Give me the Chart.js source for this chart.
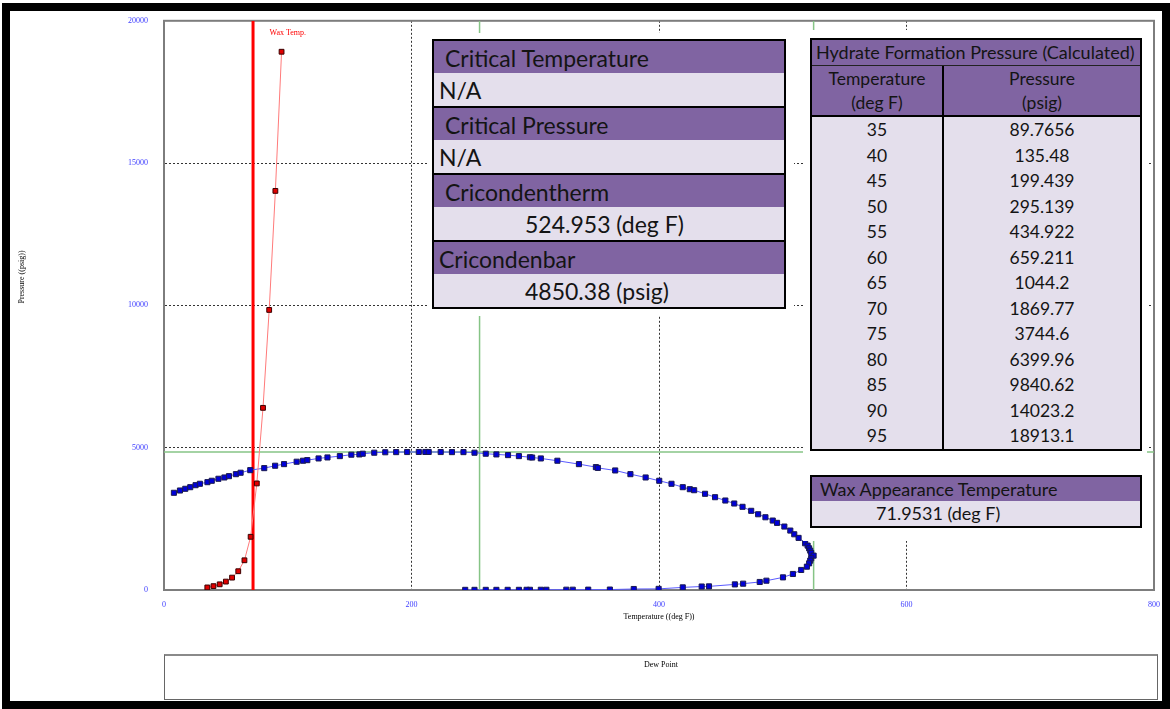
<!DOCTYPE html>
<html>
<head>
<meta charset="utf-8">
<title>Phase Envelope</title>
<script src="https://cdn.jsdelivr.net/npm/chart.js@4.4.1/dist/chart.umd.min.js"></script>
<style>
  html, body { margin: 0; padding: 0; background: #fff; }
  body { width: 1170px; height: 709px; position: relative; overflow: hidden; }
  #myChart { position: absolute; left: 0; top: 0; }
  .frame { position: absolute; left: 2px; top: 3px; width: 1168px; height: 706px; box-sizing: border-box; border: 8px solid #000; }
  .sheet { position: absolute; background: #fff; }
  .xl { position: absolute; box-sizing: border-box; border: 2px solid #000; font-family: Lato, "Open Sans", sans-serif; color: #141414; }
  .hd { background: #8064a2; white-space: nowrap; }
  .val { background: #e4dfec; white-space: nowrap; }
  #summary .hd { height: 32px; line-height: 34px; font-size: 23px; }
  #summary .val { height: 33px; line-height: 34px; font-size: 23px; }
  #summary .sep { border-bottom: 2px solid #000; }
  #hydrate { font-size: 17.5px; }
  #hydrate .title { height: 25px; line-height: 25px; padding-left: 4px; border-bottom: 1px solid #222; font-size: 18px; }
  #hydrate .row { display: flex; }
  #hydrate .c1 { width: 130px; text-align: center; }
  #hydrate .c2 { flex: 1; text-align: center; border-left: 2px solid #000; }
  #hydrate .head { height: 49px; border-bottom: 2px solid #000; }
  #hydrate .head div { line-height: 24px; padding-top: 1px; }
  #hydrate .body .c1, #hydrate .body .c2 { height: 25.5px; line-height: 25.5px; }
  #wax { font-size: 18px; }
  #wax .hd { height: 24px; line-height: 25px; padding-left: 8px; }
  #wax .val { height: 25px; line-height: 25px; padding-left: 64px; }
  #legendBox { position: absolute; left: 164px; top: 654px; width: 994px; height: 46px; box-sizing: border-box; border: 1px solid #666; border-top: 2px solid #8a8a8a; text-align: center; font: 8px "Liberation Serif", serif; color: #000; padding-top: 4px; }
</style>
</head>
<body>
<canvas id="myChart" width="1170" height="709"></canvas>
<div class="sheet" style="left:427px;top:33px;width:367px;height:283px;"></div>
<div class="sheet" style="left:803px;top:30px;width:344px;height:511px;"></div>
<div class="xl" id="summary" style="left:432px;top:39px;width:354px;"></div>
<div class="xl" id="hydrate" style="left:810px;top:38px;width:332px;"></div>
<div class="xl" id="wax" style="left:810px;top:475px;width:332px;"></div>
<div id="legendBox">Dew Point</div>
<div class="frame"></div>
<script>
// hydrate formation pressure (calculated)
const hydrateTemps = [35, 40, 45, 50, 55, 60, 65, 70, 75, 80, 85, 90, 95];
const hydratePress = [89.7656, 135.48, 199.439, 295.139, 434.922, 659.211, 1044.2, 1869.77, 3744.6, 6399.96, 9840.62, 14023.2, 18913.1];

// phase envelope
const envTemps = [8.0, 12.9, 17.2, 21.2, 25.5, 29.0, 35.1, 38.6, 44.0, 48.8,
  52.5, 58.1, 61.9, 69.7, 81.0, 89.8, 97.0, 107.2, 112.3, 115.8,
  124.9, 132.1, 142.1, 151.4, 157.9, 160.6, 169.9, 178.8, 187.6, 196.5,
  205.9, 211.2, 213.9, 223.6, 232.7, 242.0, 250.9, 260.0, 268.6, 278.0,
  286.8, 295.7, 297.5, 304.5, 317.9, 335.3, 349.0, 350.6, 364.6, 376.9,
  389.2, 400.2, 410.1, 419.2, 424.9, 428.4, 437.2, 445.3, 453.6, 460.8,
  467.5, 474.5, 480.1, 486.0, 491.9, 495.4, 501.3, 506.1, 509.3, 512.8,
  518.1, 520.1, 521.3, 522.2, 523.0, 524.95, 523.0, 522.2, 521.3, 519.5,
  514.9, 508.2, 500.2, 486.8, 481.4, 468.0, 461.3, 440.4, 434.5, 419.2,
  399.7, 379.6, 360.3, 342.8, 330.3, 325.1, 309.0, 304.5, 295.7, 293.0,
  286.8, 277.7, 268.6, 260.0, 250.9, 243.4];
const envPress = [3415, 3496, 3556, 3613, 3683, 3732, 3789, 3838, 3908, 3954,
  4000, 4070, 4120, 4211, 4282, 4366, 4423, 4507, 4542, 4563,
  4623, 4658, 4704, 4754, 4764, 4789, 4824, 4840, 4845, 4848,
  4850, 4850, 4850, 4848, 4845, 4845, 4824, 4789, 4764, 4740,
  4704, 4665, 4655, 4623, 4542, 4423, 4317, 4290, 4201, 4070,
  3954, 3838, 3732, 3613, 3542, 3507, 3380, 3261, 3144, 3039,
  2923, 2782, 2662, 2556, 2440, 2359, 2229, 2088, 1958, 1831,
  1641, 1560, 1465, 1384, 1303, 1208, 1113, 1032, 937, 820,
  704, 563, 444, 327, 282, 222, 197, 127, 122, 92,
  40, 35, 15, 12, 10, 10, 8, 8, 7, 7,
  6, 6, 5, 5, 5, 5];

// key values
const waxTemp = 71.9531;
const cricondentherm = 524.953;
const cricondenbar = 4850.38;
const cricondenbarTemp = 255; // estimated from the green line
const summaryLabels = ['Critical Temperature', 'Critical Pressure', 'Cricondentherm', 'Cricondenbar'];
const summaryValues = ['N/A', 'N/A', cricondentherm + ' (deg F)', cricondenbar + ' (psig)'];

// axes
const xRange = [0, 800];
const yRange = [0, 20000];
const xStep = 200;
const yStep = 5000;

const pts = (xs, ys) => xs.map((x, i) => ({ x: x, y: ys[i] }));

// tables
const summaryIndent = [[11, 5], [11, 5], [11, 91], [5, 91]];
const summary = document.getElementById('summary');
summaryLabels.forEach((lab, i) => {
  const hd = document.createElement('div');
  hd.className = 'hd';
  hd.style.paddingLeft = summaryIndent[i][0] + 'px';
  hd.textContent = lab;
  const val = document.createElement('div');
  val.className = 'val' + (i < summaryLabels.length - 1 ? ' sep' : '');
  val.style.paddingLeft = summaryIndent[i][1] + 'px';
  val.textContent = summaryValues[i];
  summary.appendChild(hd);
  summary.appendChild(val);
});

const hydrate = document.getElementById('hydrate');
let html = '<div class="hd title">Hydrate Formation Pressure (Calculated)</div>';
html += '<div class="hd row head"><div class="c1">Temperature<br>(deg F)</div><div class="c2">Pressure<br>(psig)</div></div>';
html += '<div class="val body">';
hydrateTemps.forEach((t, i) => {
  html += '<div class="row"><div class="c1">' + t + '</div><div class="c2">' + hydratePress[i] + '</div></div>';
});
html += '</div>';
hydrate.innerHTML = html;

document.getElementById('wax').innerHTML =
  '<div class="hd">Wax Appearance Temperature</div><div class="val">' + waxTemp + ' (deg F)</div>';

// frame, labels
const extras = {
  id: 'extras',
  beforeDatasetsDraw(chart) {
    const { ctx, chartArea: a } = chart;
    ctx.save();
    ctx.strokeStyle = '#7d7d7d';
    ctx.lineWidth = 2;
    ctx.strokeRect(a.left, a.top, a.right - a.left, a.bottom - a.top);
    ctx.restore();
  },
  afterDatasetsDraw(chart) {
    const { ctx, scales: { x, y } } = chart;
    ctx.save();
    ctx.font = '8px "Liberation Serif"';
    ctx.textAlign = 'center';
    ctx.textBaseline = 'middle';
    ctx.fillStyle = '#ff0000';
    ctx.fillText('Wax Temp.', x.getPixelForValue(100), y.getPixelForValue(19570));
    ctx.fillStyle = '#000';
    ctx.translate(22, 277);
    ctx.rotate(-Math.PI / 2);
    ctx.fillText('Pressure ((psig))', 0, 0);
    ctx.restore();
  }
};

const tickFont = { family: 'Liberation Serif', size: 8 };
const tickColor = '#4040ff';
const greenLine = { borderColor: '#86c486', borderWidth: 1.5, pointRadius: 0, showLine: true };

const ctx = document.getElementById('myChart').getContext('2d');
const myChart = new Chart(ctx, {
  type: 'scatter',
  data: {
    datasets: [
      {
        label: 'Hydrate',
        data: pts(hydrateTemps, hydratePress),
        showLine: true,
        borderColor: '#ff7a7a',
        borderWidth: 1,
        pointStyle: 'rect',
        pointRadius: 3.4,
        pointBackgroundColor: '#e00000',
        pointBorderColor: '#3a0000',
        pointBorderWidth: 1
      },
      {
        label: 'Dew Point',
        data: pts(envTemps, envPress),
        showLine: true,
        borderColor: '#5a5aff',
        borderWidth: 1,
        pointStyle: 'rect',
        pointRadius: 3.6,
        pointBackgroundColor: '#0000d8',
        pointBorderColor: '#1a1a50',
        pointBorderWidth: 1
      },
      {
        label: 'Wax Temp.',
        data: [{ x: waxTemp, y: yRange[0] }, { x: waxTemp, y: yRange[1] }],
        showLine: true,
        borderColor: '#ff0000',
        borderWidth: 3,
        pointRadius: 0
      },
      Object.assign({ label: 'Cricondenbar', data: [{ x: xRange[0], y: cricondenbar }, { x: xRange[1], y: cricondenbar }] }, greenLine),
      Object.assign({ label: 'Cricondentherm', data: [{ x: cricondentherm, y: yRange[0] }, { x: cricondentherm, y: yRange[1] }] }, greenLine),
      Object.assign({ label: 'Cricondenbar T', data: [{ x: cricondenbarTemp, y: yRange[0] }, { x: cricondenbarTemp, y: yRange[1] }] }, greenLine)
    ]
  },
  options: {
    responsive: false,
    animation: false,
    layout: { padding: { left: 0, top: 19, right: 12, bottom: 0 } },
    plugins: { legend: { display: false }, tooltip: { enabled: false } },
    scales: {
      x: {
        type: 'linear',
        min: xRange[0],
        max: xRange[1],
        afterFit(s) { s.height = 119; },
        ticks: { stepSize: xStep, color: tickColor, font: tickFont, padding: 10, maxRotation: 0, callback: v => String(v) },
        grid: { color: '#333', lineWidth: 1, drawTicks: false },
        border: { display: true, color: '#7d7d7d', width: 2, dash: [2, 2] },
        title: { display: true, text: 'Temperature ((deg F))', color: '#000', font: { family: 'Liberation Serif', size: 8 }, padding: { top: 0, bottom: 87 } }
      },
      y: {
        type: 'linear',
        min: yRange[0],
        max: yRange[1],
        afterFit(s) { s.width = 164; },
        ticks: { stepSize: yStep, color: tickColor, font: tickFont, padding: 16, callback: v => String(v) },
        grid: { color: '#333', lineWidth: 1, drawTicks: false },
        border: { display: true, color: '#7d7d7d', width: 2, dash: [2, 2] }
      }
    }
  },
  plugins: [extras]
});
</script>
</body>
</html>
